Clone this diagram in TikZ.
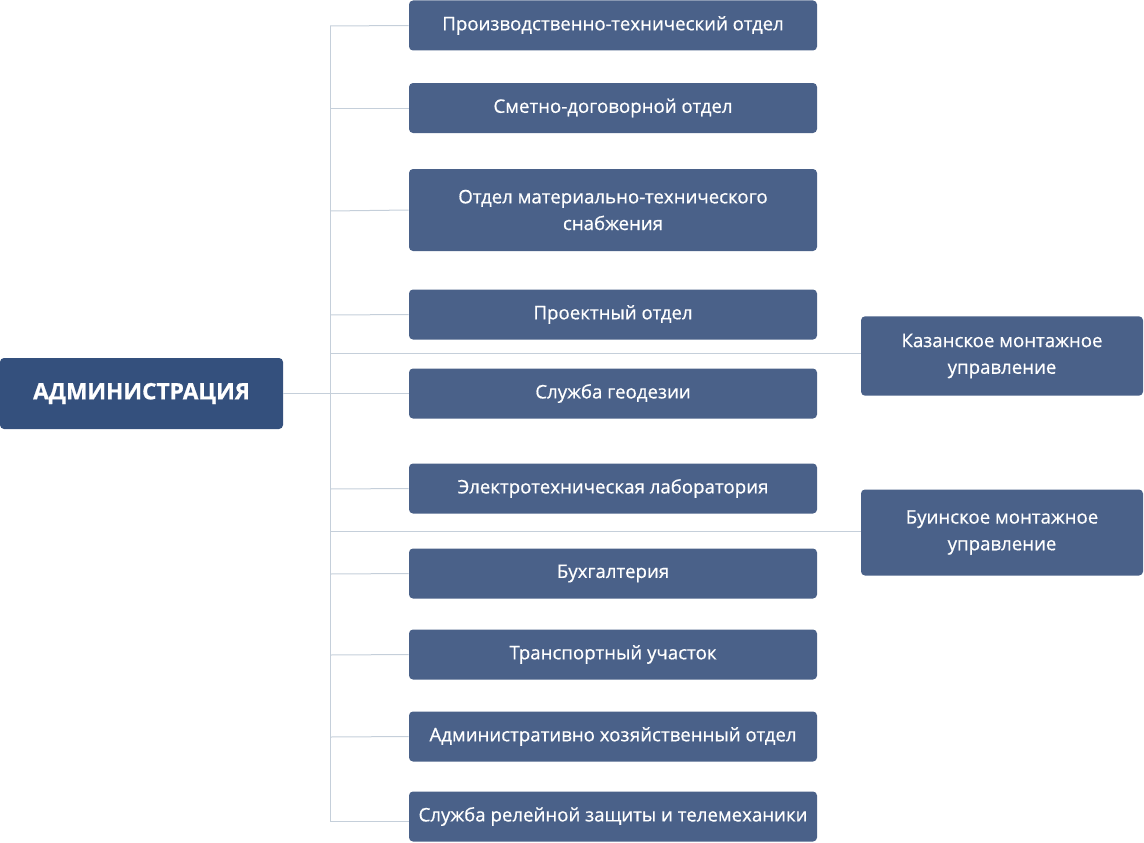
\documentclass[tikz,border=0pt]{standalone}
\usepackage{fontspec}
\setmainfont{Open Sans}
\newfontfamily\deptfont{Open Sans}[FakeBold=0.6]
\newfontfamily\headfont{Open Sans}[BoldFeatures={FakeBold=0.8}]
\usepackage{xcolor}
\usetikzlibrary{positioning}
\definecolor{deptblue}{HTML}{4A6189}
\definecolor{headblue}{HTML}{34507D}
\definecolor{linkgray}{HTML}{C5CFDA}
\tikzstyle{head} = [rectangle, rounded corners=3pt, minimum width=212.25pt, minimum height=53.25pt, text centered, fill=headblue, text=white, font=\headfont\fontsize{17}{20}\selectfont\bfseries]
\tikzstyle{dept} = [rectangle, rounded corners=3pt, minimum width=306pt, minimum height=37.5pt, align=center, fill=deptblue, text=white, font=\deptfont\fontsize{14}{20}\selectfont]
\tikzstyle{unit} = [rectangle, rounded corners=3pt, minimum width=211.5pt, align=center, fill=deptblue, text=white, font=\deptfont\fontsize{14}{20}\selectfont]
\tikzstyle{link} = [draw=linkgray, line width=0.75pt]

\begin{document}
\begin{tikzpicture}[x=0.75pt, y=-0.75pt]
    \useasboundingbox (0,0) rectangle (1144,842);
    % trunk coordinates
    \coordinate (top) at (330,26);
    \coordinate (bottom) at (330,821);
    \coordinate (kzn) at (330,353);
    \coordinate (bns) at (330,531);

    \node (admin) [head] at (141.5,393.5) {АДМИНИСТРАЦИЯ};

    \node (ptd) [dept] at (613,25.5) {Производственно-технический отдел};
    \node (smeta) [dept] at (613,108) {Сметно-договорной отдел};
    \node (omts) [dept, minimum height=61.5pt] at (613,210) {Отдел материально-технического\\снабжения};
    \node (proj) [dept] at (613,314.5) {Проектный отдел};
    \node (geo) [dept] at (613,393.5) {Служба геодезии};
    \node (lab) [dept] at (613,488.5) {Электротехническая лаборатория};
    \node (buh) [dept] at (613,573.5) {Бухгалтерия};
    \node (trans) [dept] at (613,654.5) {Транспортный участок};
    \node (aho) [dept] at (613,736.5) {Административно хозяйственный отдел};
    \node (rza) [dept] at (613,816.5) {Служба релейной защиты и телемеханики};

    \node (kazan) [unit, minimum height=59.5pt] at (1002,356) {Казанское монтажное\\управление};
    \node (buinsk) [unit, minimum height=64.5pt] at (1002,532.5) {Буинское монтажное\\управление};

    \draw [link] (top) -- (bottom);
    \draw [link] (admin.east) -- (geo.west);
    \draw [link] (top) -- (ptd.west);
    \draw [link] (330,108) -- (smeta.west);
    \draw [link] (330,211) -- (omts.west);
    \draw [link] (330,315) -- (proj.west);
    \draw [link] (330,489) -- (lab.west);
    \draw [link] (330,574) -- (buh.west);
    \draw [link] (330,655) -- (trans.west);
    \draw [link] (330,737) -- (aho.west);
    \draw [link] (bottom) -- (rza.west |- bottom);
    \draw [link] (kzn) -- (kazan.west |- kzn);
    \draw [link] (bns) -- (buinsk.west |- bns);
\end{tikzpicture}
\end{document}
